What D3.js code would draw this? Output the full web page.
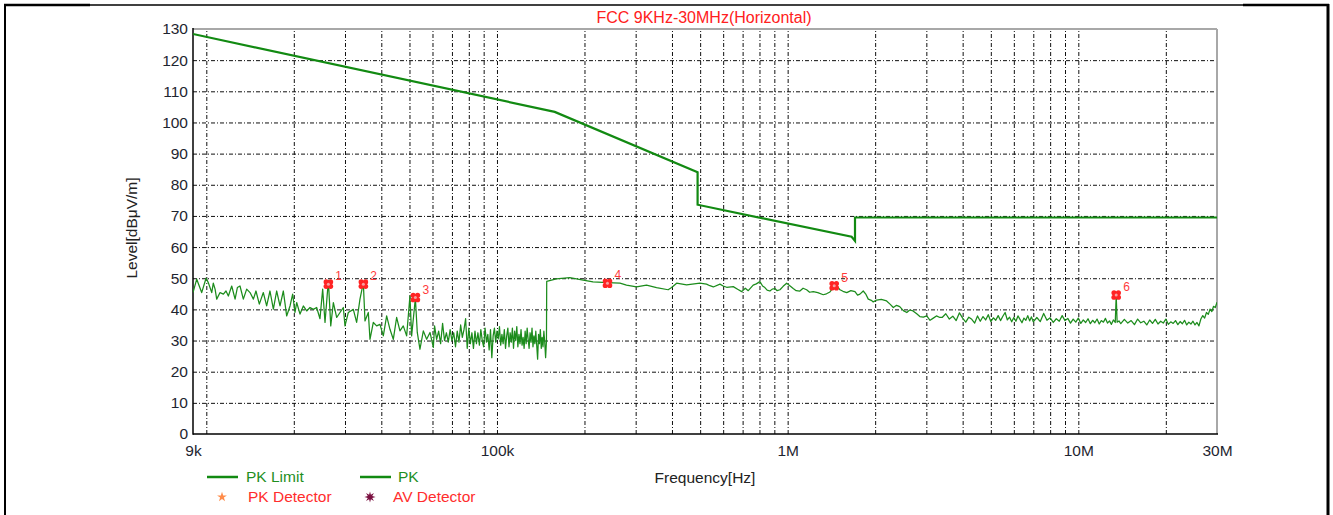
<!DOCTYPE html>
<html lang="en">
  <head>
    <meta charset="UTF-8" />
    <title>FCC 9KHz-30MHz(Horizontal)</title>
    <script src="https://d3js.org/d3.v7.min.js"></script>
    <style>
      html,
      body {
        margin: 0;
        padding: 0;
        background: #fff;
      }
      svg text {
        font-family: "Liberation Sans", Arial, sans-serif;
      }
      .grid line {
        stroke: #111;
        stroke-width: 1;
        stroke-dasharray: 4, 2, 1, 2;
      }
      .grid path {
        display: none;
      }
    </style>
  </head>
  <body>
    <script>
      // frequencies in kHz, levels in dBuV/m
      var xTickFreq = [9, 100, 1000, 10000, 30000];
      var xTickLabel = ["9k", "100k", "1M", "10M", "30M"];
      var yTicks = [0, 10, 20, 30, 40, 50, 60, 70, 80, 90, 100, 110, 120, 130];

      // PK limit
      var limitFreq = [9, 158, 490, 490, 1660, 1705, 1705, 30000];
      var limitLevel = [128.4, 103.4, 84.0, 73.6, 63.3, 62.0, 69.5, 69.5];

      // PK trace, 9k - 150k
      var pkFreqA = [
        9.0, 9.27, 9.64, 9.98, 10.16, 10.44, 10.57, 10.72, 10.86, 11.15,
        11.45, 11.69, 11.91, 12.23, 12.56, 12.79, 13.06, 13.41, 13.77, 14.14,
        14.52, 14.82, 15.22, 15.71, 16.13, 16.56, 17.01, 17.46, 17.93, 18.41,
        18.9, 19.41, 19.82, 20.19, 20.46, 21.01, 21.57, 22.15, 22.74, 23.35,
        23.97, 24.61, 25.14, 25.61, 26.3, 26.8, 27.36, 28.09, 28.84, 29.61,
        30.0, 30.8, 32.05, 32.9, 33.78, 34.69, 35.15, 36.09, 36.57, 37.55,
        38.55, 39.58, 40.64, 41.73, 42.84, 43.99, 45.16, 46.37, 47.61, 48.89,
        50.19, 50.86, 52.4, 53.19, 54.33, 55.8, 57.29, 58.83, 60.4,
        61, 62, 63, 64, 65, 66, 67, 68, 69, 70,
        71, 72, 73, 74, 75, 76, 77, 78, 79, 80,
        81, 82, 83, 84, 85, 86, 87, 88, 89, 90,
        91, 92, 93, 94, 95, 96, 97, 98, 99, 100,
        101, 102, 103, 104, 105, 106, 107, 108, 109, 110,
        111, 112, 113, 114, 115, 116, 117, 118, 119, 120,
        121, 122, 123, 124, 125, 126, 127, 128, 129, 130,
        131, 132, 133, 134, 135, 136, 137, 138, 139, 140,
        141, 142, 143, 144, 145, 146, 147, 148
      ];
      var pkLevelA = [
        45.4, 49.7, 45.4, 50.0, 48.6, 45.4, 48.4, 46.5, 43.3, 45.4,
        44.9, 45.9, 44.3, 47.5, 43.3, 47.0, 47.5, 43.3, 46.5, 45.4,
        43.3, 45.9, 41.7, 45.4, 41.1, 45.9, 40.1, 45.9, 41.1, 45.9,
        37.9, 41.1, 44.9, 39.0, 42.2, 38.5, 41.1, 39.5, 40.6, 40.0,
        40.6, 37.0, 46.5, 35.8, 49.3, 34.7, 42.2, 37.4, 39.0, 40.6,
        34.7, 39.0, 40.0, 35.8, 43.3, 48.6, 36.3, 39.0, 30.4, 35.8,
        34.7, 35.2, 31.5, 37.9, 33.6, 30.4, 37.4, 33.1, 34.7, 31.5,
        44.3, 31.5, 43.6, 32.6, 27.2, 33.1, 30.4, 32.6, 27.8,
        34.7, 30.4, 33.0, 29.0, 35.5, 30.0, 32.5, 29.5, 33.5, 30.0,
        32.5, 28.0, 33.0, 29.5, 35.0, 31.0, 33.5, 37.0, 27.5, 34.0,
        29.0, 32.5, 27.5, 33.0, 29.0, 32.5, 28.5, 33.5, 30.0, 28.0,
        34.0, 29.5, 32.0, 27.0, 33.5, 24.5, 31.5, 34.0, 29.5, 33.0,
        30.5, 34.5, 28.5, 32.0, 29.0, 33.5, 27.5, 31.5, 34.0, 28.0,
        32.5, 29.5, 34.0, 27.5, 33.0, 30.0, 34.5, 28.0, 32.0, 29.0,
        33.5, 28.5, 31.0, 27.5, 33.0, 29.0, 34.0, 30.5, 27.5, 32.5,
        29.5, 34.0, 28.0, 31.5, 29.0, 33.0, 28.5, 24.0, 32.0, 29.0,
        33.5, 27.5, 31.0, 28.0, 33.0, 29.5, 24.5, 30.0
      ];

      // PK trace, 150k - 3.3M
      var pkFreqB = [
        148.3, 160, 178, 198, 214, 240, 265, 279, 302, 327,
        354, 388, 399, 415, 449, 499, 526, 540, 555, 585,
        600, 617, 650, 675, 695, 715, 732, 761, 780, 803,
        820, 835, 850, 869, 885, 904, 920, 941, 965, 992,
        1020, 1045, 1070, 1102, 1130, 1162, 1190, 1225, 1270, 1326,
        1360, 1398, 1430, 1454, 1480, 1514, 1550, 1597, 1650, 1705,
        1740, 1773, 1820, 1860, 1894, 1940, 1970, 2024, 2100, 2190,
        2250, 2310, 2370, 2430, 2500, 2570, 2630, 2700, 2780, 2850,
        2930, 3010, 3090, 3170, 3250, 3340
      ];
      var pkLevelB = [
        49.0, 49.8, 50.2, 49.4, 48.8, 48.6, 48.4, 47.8, 47.2, 47.8,
        47.0, 46.3, 47.0, 48.4, 47.9, 48.4, 48.1, 47.6, 47.2, 48.1,
        47.5, 47.1, 47.3, 46.4, 45.7, 46.8, 46.0, 47.8, 48.2, 48.9,
        47.5, 47.0, 46.2, 45.9, 46.5, 46.7, 46.0, 46.3, 47.4, 48.4,
        47.5, 46.7, 46.0, 45.9, 46.8, 46.3, 45.5, 45.7, 45.4, 44.7,
        45.0, 45.6, 46.8, 48.1, 47.5, 46.3, 45.8, 45.4, 46.0, 45.7,
        44.6, 44.9, 45.9, 44.8, 43.3, 42.9, 42.4, 43.0, 43.2, 42.7,
        41.7, 40.6, 41.3, 40.9, 39.6, 39.0, 39.8, 39.5, 38.6, 37.7,
        37.5, 37.9, 36.5, 37.2, 37.9, 37.4
      ];

      // PK trace, 3.4M - 30M
      var pkFreqC = [
        3400, 3500, 3600, 3700, 3800, 3900, 4000, 4100, 4200, 4300,
        4400, 4500, 4600, 4700, 4800, 4900, 5000, 5100, 5200, 5300,
        5400, 5500, 5600, 5700, 5800, 5900, 6000, 6100, 6200, 6300,
        6400, 6500, 6600, 6700, 6800, 6900, 7000, 7200, 7400, 7600,
        7800, 8000, 8200, 8400, 8600, 8800, 9000, 9200, 9400, 9600,
        9800, 10000, 10200, 10400, 10600, 10800, 11000, 11200, 11400, 11600,
        11800, 12000, 12200, 12400, 12600, 12800, 13000, 13200, 13400, 13500,
        13600, 13800, 14000, 14400, 14800, 15200, 15600, 16000, 16400, 16800,
        17200, 17600, 18000, 18400, 18800, 19200, 19600, 20000, 20400, 20800,
        21200, 21600, 22000, 22400, 22800, 23200, 23600, 24000, 24400, 24800,
        25200, 25600, 26000, 26400, 26800, 27200, 27600, 28000, 28400, 28800,
        29200, 29600, 30000
      ];
      var pkLevelC = [
        37.4, 38.6, 36.9, 37.8, 36.4, 38.9, 37.2, 35.9, 37.5, 36.8,
        35.6, 37.9, 36.2, 37.7, 36.6, 38.3, 36.1, 37.3, 36.5, 38.0,
        36.4, 37.8, 39.0, 36.6, 37.5, 36.0, 37.4, 36.2, 37.9, 36.8,
        35.7, 37.2, 36.5, 38.0, 36.3, 37.6, 36.0, 37.4, 36.1, 38.7,
        36.5, 37.3, 35.8, 37.0, 36.2, 38.0, 36.4, 37.1, 35.6, 36.9,
        35.9, 37.2, 35.5, 36.6, 35.8, 37.0, 35.4, 36.5, 35.7, 36.9,
        35.3, 36.4, 35.9, 37.1, 35.6, 36.3, 35.2, 36.6, 35.8, 44.6,
        35.9, 36.3, 35.4, 36.8, 35.6, 36.4, 35.1, 36.9, 35.7, 36.2,
        35.0, 36.6, 35.5, 36.8, 35.3, 36.2, 35.6, 36.9, 35.2, 36.0,
        35.5, 36.4, 35.1, 36.1, 35.4, 36.5, 35.0, 35.9, 35.3, 36.2,
        35.0, 35.8, 34.7, 36.9, 38.0, 37.2, 39.0, 38.4, 40.1, 39.3,
        41.0, 40.6, 42.3
      ];

      // detector markers
      var markerFreq = [26.3, 34.7, 52.4, 240, 1446, 13500];
      var markerLevel = [48.1, 48.1, 43.8, 48.4, 47.6, 44.6];
      var markerLabel = ["1", "2", "3", "4", "5", "6"];

      var W = 1333,
        H = 515;
      var plotLeft = 193,
        plotRight = 1217,
        plotTop = 29,
        plotBottom = 434;

      var svg = d3.select("body").append("svg").attr("width", W).attr("height", H);

      var x = d3.scaleLog().domain([9, 30000]).range([plotLeft, plotRight]);
      var y = d3.scaleLinear().domain([0, 130]).range([plotBottom, plotTop]);

      // outer frame
      var frame = svg.append("g").attr("stroke", "#000").attr("fill", "none");
      frame.append("line").attr("x1", 4).attr("y1", 5).attr("x2", 1329).attr("y2", 5).attr("stroke-width", 1.5);
      frame.append("line").attr("x1", 4).attr("y1", 5).attr("x2", 90).attr("y2", 5).attr("stroke-width", 2.5);
      frame.append("line").attr("x1", 1243).attr("y1", 5).attr("x2", 1329).attr("y2", 5).attr("stroke-width", 2.5);
      frame.append("line").attr("x1", 5).attr("y1", 4).attr("x2", 5).attr("y2", H).attr("stroke-width", 2);
      frame.append("line").attr("x1", 1328).attr("y1", 4).attr("x2", 1328).attr("y2", H).attr("stroke-width", 3);

      // grid
      var gridFreq = x.ticks().filter(function (f) {
        return f > 9 && f < 30000;
      });
      svg
        .append("g")
        .attr("class", "grid")
        .attr("transform", "translate(0," + plotBottom + ")")
        .call(d3.axisBottom(x).tickValues(gridFreq).tickSize(-(plotBottom - plotTop)).tickFormat(""));
      svg
        .append("g")
        .attr("class", "grid")
        .attr("transform", "translate(" + plotLeft + ",0)")
        .call(
          d3
            .axisLeft(y)
            .tickValues(yTicks.slice(1, -1))
            .tickSize(-(plotRight - plotLeft))
            .tickFormat("")
        );

      // plot border
      svg.append("line").attr("x1", plotLeft).attr("y1", plotTop).attr("x2", plotRight).attr("y2", plotTop)
        .attr("stroke", "#a8a8a8").attr("stroke-width", 2);
      svg.append("line").attr("x1", plotRight).attr("y1", plotTop).attr("x2", plotRight).attr("y2", plotBottom)
        .attr("stroke", "#a8a8a8").attr("stroke-width", 2);
      svg.append("line").attr("x1", plotLeft).attr("y1", plotTop - 1).attr("x2", plotLeft).attr("y2", plotBottom + 0.75)
        .attr("stroke", "#000").attr("stroke-width", 1.5);
      svg.append("line").attr("x1", plotLeft).attr("y1", plotBottom).attr("x2", plotRight + 1).attr("y2", plotBottom)
        .attr("stroke", "#000").attr("stroke-width", 1.5);

      // y tick labels
      var yAxis = svg
        .append("g")
        .attr("transform", "translate(" + plotLeft + ",0)")
        .call(d3.axisLeft(y).tickValues(yTicks).tickSize(0).tickPadding(5));
      yAxis.select(".domain").remove();
      yAxis.selectAll("text").attr("font-size", 15.5).attr("fill", "#1e2530")
        .style("font-family", "'Liberation Sans', Arial, sans-serif");

      // x tick labels
      var xAxis = svg
        .append("g")
        .attr("transform", "translate(0," + plotBottom + ")")
        .call(
          d3
            .axisBottom(x)
            .tickValues(xTickFreq)
            .tickSize(0)
            .tickPadding(11)
            .tickFormat(function (d, i) {
              return xTickLabel[i];
            })
        );
      xAxis.select(".domain").remove();
      xAxis.selectAll("text").attr("font-size", 15.5).attr("fill", "#1e2530")
        .style("font-family", "'Liberation Sans', Arial, sans-serif");

      // clip
      svg.append("clipPath").attr("id", "plotClip").append("rect")
        .attr("x", plotLeft).attr("y", plotTop).attr("width", plotRight - plotLeft).attr("height", plotBottom - plotTop);

      var line = d3
        .line()
        .x(function (d) {
          return x(d[0]);
        })
        .y(function (d) {
          return y(d[1]);
        });

      var limitData = d3.zip(limitFreq, limitLevel);
      var pkData = d3
        .zip(pkFreqA, pkLevelA)
        .concat(d3.zip(pkFreqB, pkLevelB))
        .concat(d3.zip(pkFreqC, pkLevelC));

      var plot = svg.append("g").attr("clip-path", "url(#plotClip)");

      plot
        .append("path")
        .datum(pkData)
        .attr("d", line)
        .attr("fill", "none")
        .attr("stroke", "#1c8c1c")
        .attr("stroke-width", 1.25)
        .attr("stroke-linejoin", "round");

      plot
        .append("path")
        .datum(limitData)
        .attr("d", line)
        .attr("fill", "none")
        .attr("stroke", "#128a12")
        .attr("stroke-width", 2.2);

      // markers: red four-lobed blob with a light centre
      var markers = svg
        .selectAll("g.marker")
        .data(d3.zip(markerFreq, markerLevel, markerLabel))
        .enter()
        .append("g")
        .attr("class", "marker")
        .attr("transform", function (d) {
          return "translate(" + x(d[0]) + "," + y(d[1]) + ")";
        });
      var lobes = [[-2.2, -2.2], [2.2, -2.2], [-2.2, 2.2], [2.2, 2.2]];
      markers
        .selectAll("circle.lobe")
        .data(lobes)
        .enter()
        .append("circle")
        .attr("class", "lobe")
        .attr("cx", function (d) {
          return d[0];
        })
        .attr("cy", function (d) {
          return d[1];
        })
        .attr("r", 2.6)
        .attr("fill", "#ff2424");
      markers.append("circle").attr("r", 1.5).attr("fill", "#f6a0a0");
      markers
        .append("text")
        .attr("x", 7)
        .attr("y", -4)
        .attr("font-size", 12)
        .attr("fill", "#ff3b3b")
        .text(function (d) {
          return d[2];
        });

      // title and axis titles
      svg.append("text").attr("x", 704).attr("y", 23).attr("text-anchor", "middle")
        .attr("font-size", 16).attr("fill", "#ff2020").text("FCC 9KHz-30MHz(Horizontal)");
      svg.append("text").attr("x", 705).attr("y", 483).attr("text-anchor", "middle")
        .attr("font-size", 15.5).attr("fill", "#222").text("Frequency[Hz]");
      svg.append("text").attr("transform", "translate(137,228) rotate(-90)").attr("text-anchor", "middle")
        .attr("font-size", 15.5).attr("fill", "#222").text("Level[dBμV/m]");

      // legend
      var lg = svg.append("g");
      lg.append("line").attr("x1", 207).attr("y1", 477).attr("x2", 238).attr("y2", 477)
        .attr("stroke", "#128a12").attr("stroke-width", 2.5);
      lg.append("text").attr("x", 246).attr("y", 482).attr("font-size", 15.5).attr("fill", "#1f8f1f").text("PK Limit");
      lg.append("line").attr("x1", 360).attr("y1", 477).attr("x2", 391).attr("y2", 477)
        .attr("stroke", "#128a12").attr("stroke-width", 2.5);
      lg.append("text").attr("x", 398).attr("y", 482).attr("font-size", 15.5).attr("fill", "#1f8f1f").text("PK");
      lg.append("path").attr("transform", "translate(222,497)").attr("d", d3.symbol(d3.symbolStar, 30))
        .attr("fill", "#ff8c4a");
      lg.append("text").attr("x", 248).attr("y", 502).attr("font-size", 15.5).attr("fill", "#ff2d2d").text("PK Detector");
      var burst = d3.range(16).map(function (i) {
        return [(i * Math.PI) / 8, i % 2 ? 2.4 : 5.6];
      });
      lg.append("path").attr("transform", "translate(370,497)")
        .attr("d", d3.lineRadial().curve(d3.curveLinearClosed)(burst)).attr("fill", "#7a1040");
      lg.append("text").attr("x", 393).attr("y", 502).attr("font-size", 15.5).attr("fill", "#ff2d2d").text("AV Detector");
    </script>
  </body>
</html>
